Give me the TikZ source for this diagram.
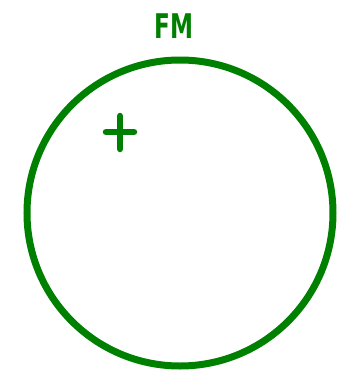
\documentclass[tikz,border=0pt]{standalone}
\usepackage{fontspec}
\setmainfont{DejaVu Sans}
\definecolor{fmgreen}{RGB}{0,128,0}
\begin{document}
\begin{tikzpicture}[x=1pt,y=-1pt,
  ring/.style={draw=fmgreen,line width=7pt},
  fmlabel/.style={text=fmgreen,font=\bfseries\fontsize{34}{34}\selectfont,inner sep=0pt,xscale=0.68},
  plusline/.style={draw=fmgreen,line width=6.5pt,line cap=round}]
\useasboundingbox (0,0) rectangle (344,381);
\node[ring,circle,minimum size=306pt,inner sep=0pt] (c) at (180,213) {};
\node[fmlabel,anchor=base] (t) at (174,38) {FM};
\coordinate (pl) at (106,132);
\coordinate (pr) at (134,132);
\coordinate (pt) at (120,116);
\coordinate (pb) at (120,149);
\draw[plusline] (pl) -- (pr);
\draw[plusline] (pt) -- (pb);
\end{tikzpicture}
\end{document}
